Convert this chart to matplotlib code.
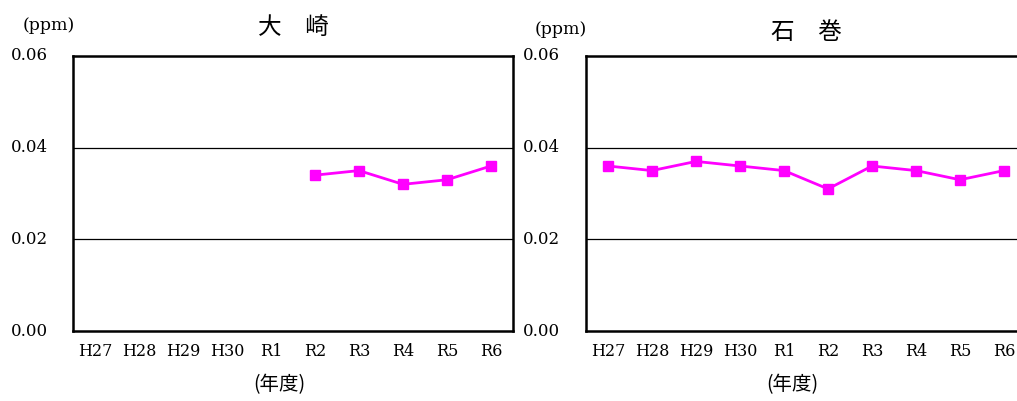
import numpy as np
import matplotlib.pyplot as plt

years = ['H27', 'H28', 'H29', 'H30', 'R1', 'R2', 'R3', 'R4', 'R5', 'R6']
osaki = [np.nan, np.nan, np.nan, np.nan, np.nan, 0.034, 0.035, 0.032, 0.033, 0.036]
ishinomaki = [0.036, 0.035, 0.037, 0.036, 0.035, 0.031, 0.036, 0.035, 0.033, 0.035]
titles = ['大\u3000崎', '石\u3000巻']
yticks = [0.00, 0.02, 0.04, 0.06]

W, H = 1017, 401
fig = plt.figure(figsize=(W / 100, H / 100), dpi=100)

def px_axes(x0, y0, x1, y1):
    return fig.add_axes([x0 / W, 1 - y1 / H, (x1 - x0) / W, (y1 - y0) / H])

num_font = 'DejaVu Serif'
jp_font = ['Noto Sans CJK JP', 'DejaVu Sans']

# axes, data, title, title y, tick label x, (ppm) x, (ppm) y
panels = [(px_axes(73, 56, 513, 331), osaki, titles[0], 1.105, 11, 23, 25),
          (px_axes(586, 56, 1026, 331), ishinomaki, titles[1], 1.084, 523, 535, 30)]

for ax, vals, title, ty, tick_x, ppm_x, ppm_y in panels:
    x = np.arange(len(years))
    ax.plot(x, vals, color='#ff00ff', linewidth=2, marker='s', markersize=7)
    ax.set_xlim(-0.5, len(years) - 0.5)
    ax.set_ylim(0, 0.06)
    ax.set_yticks(yticks)
    ax.set_yticklabels([])
    ax.set_xticks(x)
    ax.set_xticklabels(years, fontfamily=num_font, fontsize=11.5)
    ax.tick_params(length=0, pad=9)
    for v in yticks[1:-1]:
        ax.axhline(v, color='black', linewidth=0.9, zorder=0)
    for s in ax.spines.values():
        s.set_linewidth(1.8)
        s.set_color('black')
    ax.set_title(title, fontfamily=jp_font, fontsize=17, y=ty, va='center', pad=0)
    ax.set_xlabel('(年度)', fontfamily=jp_font, fontsize=14, labelpad=7)
    ax.xaxis.set_label_coords(0.47, -0.155)
    # y tick labels sit left aligned, away from the frame
    for v in yticks:
        yp = 331 - v / 0.06 * 275
        fig.text(tick_x / W, 1 - yp / H, '%.2f' % v, fontfamily=num_font,
                 fontsize=12, ha='left', va='center')
    fig.text(ppm_x / W, 1 - ppm_y / H, '(ppm)', fontfamily=num_font,
             fontsize=12.5, ha='left', va='center')

fig.savefig('out.png', dpi=100)
